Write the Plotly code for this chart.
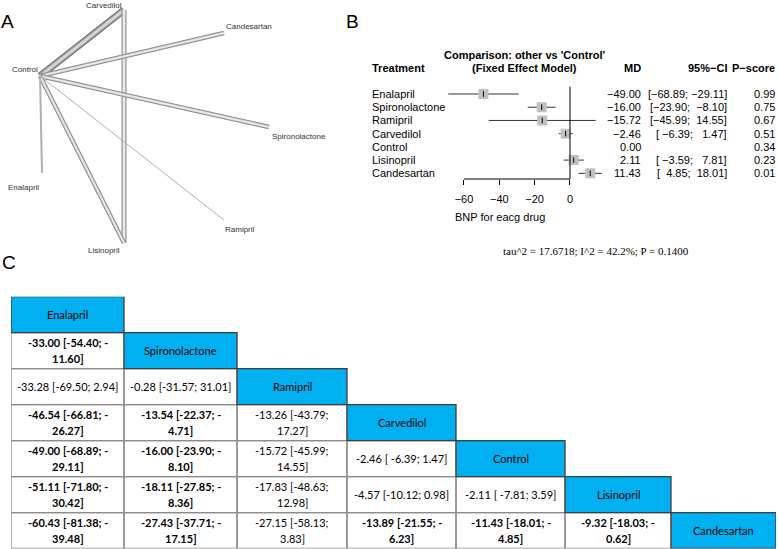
import plotly.graph_objects as go

W, H = 778, 549

def px(x):
    return x / W

def py(y):
    return 1 - y / H

# ---------------- Panel A: network graph ----------------
nodes = ["Control", "Carvedilol", "Candesartan", "Spironolactone", "Enalapril", "Ramipril", "Lisinopril"]
node_x = [40, 124, 224, 269, 42, 224, 124]
node_y = [76, 10, 33, 127, 173, 220, 243]
label_x = [25, 104, 249, 299, 23, 240, 104]
label_y = [69, 5, 26, 136, 187, 229, 250]
edges = [("Control", "Carvedilol"), ("Carvedilol", "Lisinopril"), ("Control", "Candesartan"),
         ("Control", "Spironolactone"), ("Control", "Lisinopril"), ("Control", "Enalapril"),
         ("Control", "Ramipril")]
edge_width = [7, 5, 4.5, 4.5, 4.5, 2, 1]

# ---------------- Panel B: forest plot ----------------
treat = ["Enalapril", "Spironolactone", "Ramipril", "Carvedilol", "Control", "Lisinopril", "Candesartan"]
md = [-49.00, -16.00, -15.72, -2.46, 0.00, 2.11, 11.43]
lo = [-68.89, -23.90, -45.99, -6.39, None, -3.59, 4.85]
hi = [-29.11, -8.10, 14.55, 1.47, None, 7.81, 18.01]
pscore = [0.99, 0.75, 0.67, 0.51, 0.34, 0.23, 0.01]
x_ticks = [-60, -40, -20, 0]
stats_text = "tau^2 = 17.6718; I^2 = 42.2%; P = 0.1400"

# ---------------- Panel C: league table ----------------
league_treat = ["Enalapril", "Spironolactone", "Ramipril", "Carvedilol", "Control", "Lisinopril", "Candesartan"]
league_md = [
    [],
    [-33.00],
    [-33.28, -0.28],
    [-46.54, -13.54, -13.26],
    [-49.00, -16.00, -15.72, -2.46],
    [-51.11, -18.11, -17.83, -4.57, -2.11],
    [-60.43, -27.43, -27.15, -13.89, -11.43, -9.32],
]
league_lo = [
    [],
    [-54.40],
    [-69.50, -31.57],
    [-66.81, -22.37, -43.79],
    [-68.89, -23.90, -45.99, -6.39],
    [-71.80, -27.85, -48.63, -10.12, -7.81],
    [-81.38, -37.71, -58.13, -21.55, -18.01, -18.03],
]
league_hi = [
    [],
    [-11.60],
    [2.94, 31.01],
    [-26.27, -4.71, 17.27],
    [-29.11, -8.10, 14.55, 1.47],
    [-30.42, -8.36, 12.98, 0.98, 3.59],
    [-39.48, -17.15, 3.83, -6.23, -4.85, -0.62],
]
# table column widths (layout, px)
col_w = [113, 113, 110, 109, 109, 106, 105]

BLUE = "#00B0F0"
SANS = "Liberation Sans"
TFONT = "Lato"

fig = go.Figure()
shapes = []
annotations = []

# ---- network traces ----
idx = {n: i for i, n in enumerate(nodes)}
for (a, b), w in zip(edges, edge_width):
    xs = [node_x[idx[a]], node_x[idx[b]]]
    ys = [node_y[idx[a]], node_y[idx[b]]]
    if w >= 6:
        layers = [(w, "#6a6a6a"), (w - 2, "#a4a4a4"), (w - 4.5, "#d6d6d6")]
    elif w >= 4:
        layers = [(w, "#8c8c8c"), (w - 2, "#d4d4d4"), (max(w - 3.5, 0.8), "#f2f2f2")]
    else:
        layers = [(w, "#b0b0b0")]
    for lw, col in layers:
        fig.add_trace(go.Scatter(x=xs, y=ys, mode="lines", line=dict(color=col, width=lw),
                                 xaxis="x", yaxis="y", hoverinfo="skip", showlegend=False))
for n, lx, ly in zip(nodes, label_x, label_y):
    annotations.append(dict(x=lx, y=ly, xref="x", yref="y", text=n, showarrow=False,
                            xanchor="center", yanchor="middle",
                            font=dict(family=SANS, size=8, color="#333")))

# ---- forest plot ----
ci_x, ci_y = [], []
for i, (l, h) in enumerate(zip(lo, hi)):
    if l is None:
        continue
    ci_x += [l, h, None]
    ci_y += [i, i, None]
sq_x = [m for m, l in zip(md, lo) if l is not None]
sq_y = [i for i, l in enumerate(lo) if l is not None]
fig.add_trace(go.Scatter(x=ci_x, y=ci_y, mode="lines", line=dict(color="#333", width=1),
                         xaxis="x2", yaxis="y2", hoverinfo="skip", showlegend=False))
fig.add_trace(go.Scatter(x=sq_x, y=sq_y, mode="markers",
                         marker=dict(symbol="square", size=10, color="#c0c0c0", line=dict(width=0)),
                         xaxis="x2", yaxis="y2", hoverinfo="skip", showlegend=False))
fig.add_trace(go.Scatter(x=sq_x, y=sq_y, mode="markers",
                         marker=dict(symbol="line-ns-open", size=4, color="#000",
                                     line=dict(width=1, color="#000")),
                         xaxis="x2", yaxis="y2", hoverinfo="skip", showlegend=False))
shapes.append(dict(type="line", xref="x2", yref="y2 domain", x0=0, x1=0, y0=0, y1=1,
                   line=dict(color="#000", width=1)))
shapes.append(dict(type="line", xref="x2", yref="y2 domain", x0=min(x_ticks), x1=max(x_ticks),
                   y0=0, y1=0, line=dict(color="#000", width=1)))

def mfmt(v, width=0):
    s = f"{v:{width}.2f}" if width else f"{v:.2f}"
    return s.replace("-", "\u2212")

ffont = dict(family=SANS, size=11, color="#000")
for i, t in enumerate(treat):
    annotations.append(dict(x=px(370), y=i, xref="paper", yref="y2", text=t, showarrow=False,
                            xanchor="left", yanchor="middle", font=ffont))
    annotations.append(dict(x=px(643), y=i, xref="paper", yref="y2", text=mfmt(md[i]),
                            showarrow=False, xanchor="right", yanchor="middle", font=ffont))
    if lo[i] is not None:
        ci = "[" + mfmt(lo[i], 6) + "; " + mfmt(hi[i], 6) + "]"
        annotations.append(dict(x=px(729), y=i, xref="paper", yref="y2",
                                text=ci.replace(" ", "\u00a0"), showarrow=False,
                                xanchor="right", yanchor="middle", font=ffont))
    annotations.append(dict(x=px(777), y=i, xref="paper", yref="y2", text=f"{pscore[i]:.2f}",
                            showarrow=False, xanchor="right", yanchor="middle", font=ffont))

def hdr(text, x, y, anchor):
    return dict(x=px(x), y=py(y), xref="paper", yref="paper", text=text, showarrow=False,
                xanchor=anchor, yanchor="middle", font=ffont)

annotations += [
    hdr("<b>Treatment</b>", 370, 68, "left"),
    hdr("<b>Comparison: other vs 'Control'</b>", 524, 55, "center"),
    hdr("<b>(Fixed Effect Model)</b>", 524, 68, "center"),
    hdr("<b>MD</b>", 643, 68, "right"),
    hdr("<b>95%\u2212CI</b>", 729, 68, "right"),
    hdr("<b>P\u2212score</b>", 777, 68, "right"),
    hdr("BNP for eacg drug", 453, 217, "left"),
    dict(x=px(596), y=py(251), xref="paper", yref="paper", text=stats_text, showarrow=False,
         xanchor="center", yanchor="middle",
         font=dict(family="Liberation Serif", size=11, color="#000")),
]

# ---- league table ----
n = len(league_treat)
x_edges = [11]
for cw in col_w:
    x_edges.append(x_edges[-1] + cw)
x_cent = [(x_edges[k] + x_edges[k + 1]) / 2 for k in range(n)]
z = []
for i in range(n):
    row = []
    for j in range(n):
        if j == i:
            row.append(1)
        elif j < i:
            row.append(0)
        else:
            row.append(None)
    z.append(row)
fig.add_trace(go.Heatmap(z=z, x=x_edges, y=list(range(n)), xaxis="x3", yaxis="y3",
                         colorscale=[[0, "#ffffff"], [1, BLUE]], zmin=0, zmax=1,
                         showscale=False, hoverinfo="skip"))

white_borders, blue_borders = [], []
for i in range(n):
    for j in range(i + 1):
        rect = dict(type="rect", xref="x3", yref="y3", x0=x_edges[j], x1=x_edges[j + 1],
                    y0=i - 0.5, y1=i + 0.5, fillcolor="rgba(0,0,0,0)")
        if i == j:
            rect["line"] = dict(color="#3f3f3f", width=1.3)
            blue_borders.append(rect)
        else:
            rect["line"] = dict(color="#8c8c8c", width=1.3)
            white_borders.append(rect)
shapes += white_borders + blue_borders

tfont = dict(family=TFONT, size=11, color="#000")
tbfont = dict(family=TFONT, size=11, color="#000", weight="bold")
for i, t in enumerate(league_treat):
    annotations.append(dict(x=x_cent[i], y=i, xref="x3", yref="y3", text=t, showarrow=False,
                            font=tfont))
for i in range(n):
    for j in range(i):
        m, l, h = league_md[i][j], league_lo[i][j], league_hi[i][j]
        s = f"{m:.2f} [{l:6.2f}; {h:.2f}]"
        sig = (h < 0) or (l > 0)
        max_chars = int((col_w[j] - 14) / (4.6 * (1.08 if sig else 1.0)))
        if len(s) > max_chars:
            k = s.rfind("; ") + 2
            if s[k] == "-":
                lines = [s[:k + 1], s[k + 1:]]
            else:
                lines = [s[:k].rstrip(), s[k:]]
        else:
            lines = [s]
        f = tbfont if sig else tfont
        if len(lines) == 1:
            annotations.append(dict(x=x_cent[j], y=i, xref="x3", yref="y3",
                                    text=lines[0].replace(" ", "\u00a0"), showarrow=False, font=f))
        else:
            for ln, ys in zip(lines, [8.3, -8.3]):
                annotations.append(dict(x=x_cent[j], y=i, xref="x3", yref="y3",
                                        text=ln.replace(" ", "\u00a0"),
                                        showarrow=False, yshift=ys, font=f))

# ---- panel letters ----
for letter, lx, ly in [("A", 8, 22), ("B", 352, 22), ("C", 9, 263)]:
    annotations.append(dict(x=px(lx), y=py(ly), xref="paper", yref="paper", text=letter,
                            showarrow=False, xanchor="center", yanchor="middle",
                            font=dict(family=SANS, size=19, color="#000")))

hidden = dict(visible=False, showgrid=False, zeroline=False, fixedrange=True)

# forest axis geometry
row0_px, row_step = 94.0, 13.22
fy_top, fy_bot = 86.7, 179.0
x0_px, unit_px = 570.0, 1.767
fx_lo, fx_hi = -72, 20

fig.update_layout(
    width=W, height=H, margin=dict(l=0, r=0, t=0, b=0),
    paper_bgcolor="white", plot_bgcolor="rgba(0,0,0,0)", showlegend=False,
    xaxis=dict(domain=[0, px(340)], range=[0, 340], **hidden),
    yaxis=dict(domain=[py(265), 1], range=[265, 0], **hidden),
    xaxis2=dict(domain=[px(x0_px + unit_px * fx_lo), px(x0_px + unit_px * fx_hi)],
                range=[fx_lo, fx_hi], anchor="y2", showgrid=False, zeroline=False, showline=False,
                tickvals=x_ticks, ticks="outside", ticklen=5, tickcolor="#000", tickwidth=1,
                ticklabelstandoff=5,
                tickfont=dict(family=SANS, size=11, color="#000"), fixedrange=True),
    yaxis2=dict(domain=[py(fy_bot), py(fy_top)],
                range=[(fy_bot - row0_px) / row_step, (fy_top - row0_px) / row_step],
                anchor="x2", **hidden),
    xaxis3=dict(domain=[px(x_edges[0]), px(x_edges[-1])], range=[x_edges[0], x_edges[-1]],
                anchor="y3", **hidden),
    yaxis3=dict(domain=[py(548.5), py(296.7)], range=[n - 0.5, -0.5], anchor="x3", **hidden),
    shapes=shapes, annotations=annotations,
)

fig.write_html("out.html", config={"displayModeBar": False},
               post_script="document.body.style.margin='0px';")
